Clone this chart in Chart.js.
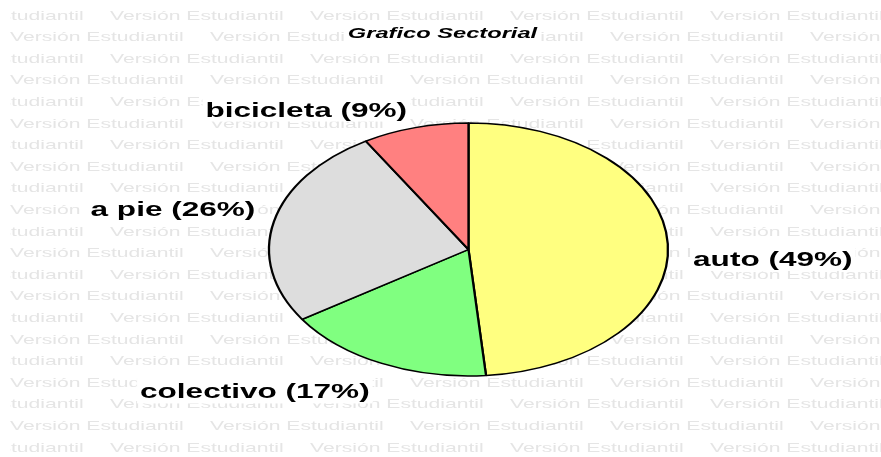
<!DOCTYPE html>
<html>
<head>
<meta charset="utf-8">
<title>Grafico Sectorial</title>
<script src="https://cdn.jsdelivr.net/npm/chart.js@4/dist/chart.umd.min.js"></script>
<style>
  body { margin: 0; background: #fff; }
  canvas { display: block; }
</style>
</head>
<body>
<canvas id="myChart" width="881" height="457"></canvas>
<script>
const chartTitle = 'Grafico Sectorial';
const categories = ['auto', 'colectivo', 'a pie', 'bicicleta'];
const shares = [48.6, 17.1, 25.7, 8.6];
const sliceColors = ['#FFFF80', '#80FF80', '#DDDDDD', '#FF8080'];
const watermark = 'Versión Estudiantil';

// the original picture was stretched sideways: everything is ~1.577x wider than tall
const STRETCH = 1.577;
// label position relative to the middle of its slice's rim (x, baseline)
const labelOffsets = [[105, 22], [-127, 35], [-101, -6], [-109, -11]];

const FONT = '"Liberation Sans", Arial, sans-serif';

// white box behind the text, then the text itself stretched like the original
function drawBoxedText(ctx, text, cx, baseline, font, up, down) {
    ctx.save();
    ctx.font = font;
    const w = ctx.measureText(text).width * STRETCH;
    ctx.fillStyle = '#fff';
    ctx.fillRect(cx - w / 2 - 3, baseline - up, w + 6, up + down);
    ctx.translate(cx - w / 2, baseline);
    ctx.scale(STRETCH, 1);
    ctx.fillStyle = '#000';
    ctx.textAlign = 'left';
    ctx.textBaseline = 'alphabetic';
    ctx.fillText(text, 0, 0);
    ctx.restore();
}

const watermarkPlugin = {
    id: 'watermark',
    beforeDraw(chart) {
        const ctx = chart.ctx;
        ctx.save();
        ctx.beginPath();
        ctx.rect(10, 0, chart.width - 10, chart.height);
        ctx.clip();
        ctx.font = '13.4px ' + FONT;
        ctx.fillStyle = '#e5e5e5';
        for (let row = 0; row < 21; row++) {
            const y = 19.5 + row * 21.6;
            const start = row % 2 === 0 ? -90 : 10;
            for (let x = start; x < chart.width; x += 200) {
                ctx.save();
                ctx.translate(x, y);
                ctx.scale(STRETCH, 1);
                ctx.fillText(watermark, 0, 0);
                ctx.restore();
            }
        }
        ctx.restore();
    }
};

// squash the round pie into the ellipse of the original
const squashPlugin = {
    id: 'squash',
    beforeDatasetsDraw(chart) {
        const arc = chart.getDatasetMeta(0).data[0];
        const ctx = chart.ctx;
        ctx.save();
        ctx.translate(arc.x, arc.y);
        ctx.scale(1, 1 / STRETCH);
        ctx.translate(-arc.x, -arc.y);
    },
    afterDatasetsDraw(chart) {
        chart.ctx.restore();
    }
};

const labelPlugin = {
    id: 'sliceLabels',
    afterDraw(chart) {
        const ctx = chart.ctx;
        const total = shares.reduce((a, b) => a + b, 0);
        chart.getDatasetMeta(0).data.forEach((arc, i) => {
            const mid = (arc.startAngle + arc.endAngle) / 2;
            const rimX = arc.x + arc.outerRadius * Math.cos(mid);
            const rimY = arc.y + arc.outerRadius * Math.sin(mid) / STRETCH;
            const text = categories[i] + ' (' + Math.round(shares[i] / total * 100) + '%)';
            drawBoxedText(ctx, text, rimX + labelOffsets[i][0], rimY + labelOffsets[i][1],
                'bold 20px ' + FONT, 21, 5);
        });
        drawBoxedText(ctx, chartTitle, 442.5, 38, 'italic bold 15px ' + FONT, 15, 5);
    }
};

const ctx = document.getElementById('myChart').getContext('2d');
new Chart(ctx, {
    type: 'pie',
    data: {
        labels: categories,
        datasets: [{
            data: shares,
            backgroundColor: sliceColors,
            borderColor: '#000',
            borderWidth: 2.3,
            radius: 199.5,
            clip: false
        }]
    },
    options: {
        responsive: false,
        animation: false,
        devicePixelRatio: 1,
        events: [],
        layout: { padding: { left: 56, top: 42, right: 0, bottom: 0 } },
        plugins: {
            legend: { display: false },
            tooltip: { enabled: false },
            title: { display: false }
        }
    },
    plugins: [watermarkPlugin, squashPlugin, labelPlugin]
});
</script>
</body>
</html>
